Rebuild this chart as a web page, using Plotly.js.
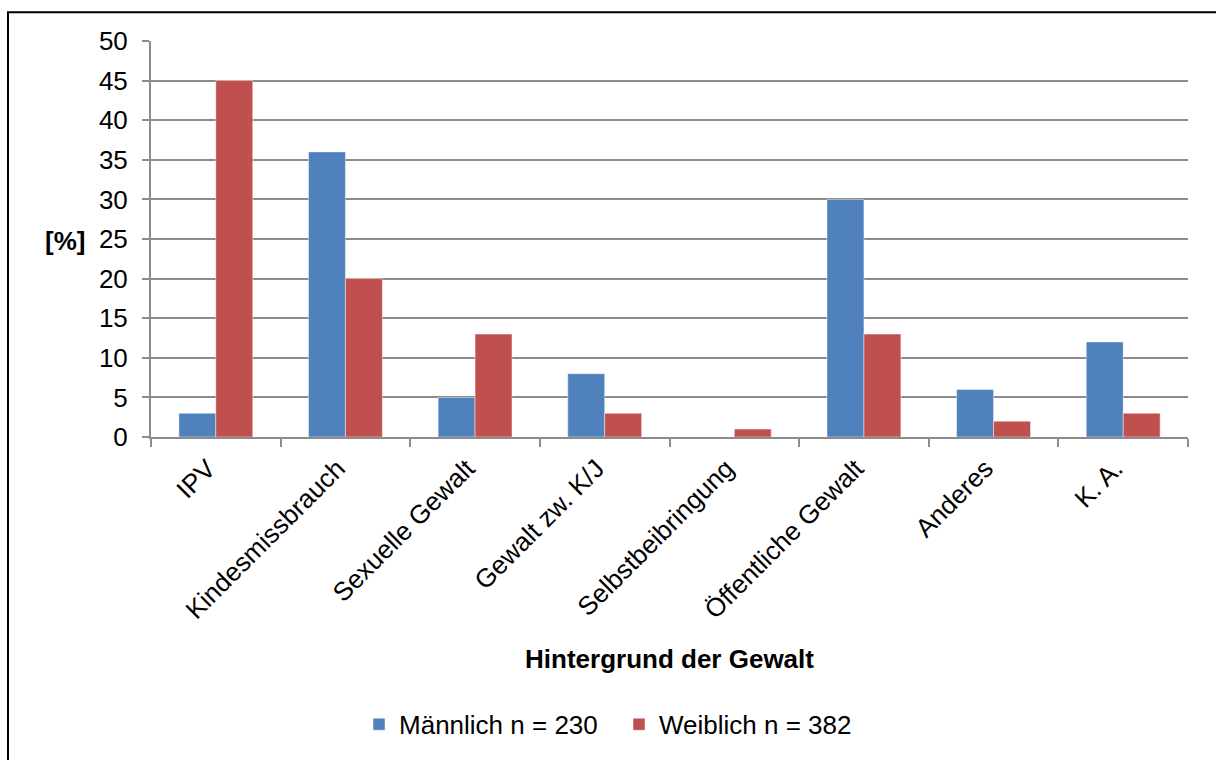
<!DOCTYPE html>
<html>
<head>
<meta charset="utf-8">
<script src="https://cdn.plot.ly/plotly-3.0.1.min.js"></script>
<style>
  html, body { margin: 0; padding: 0; background: #ffffff; }
  #chart { width: 1216px; height: 760px; }
</style>
</head>
<body>
<div id="chart"></div>
<script>
// Hintergrund der Gewalt nach Geschlecht (Anteile in %)
const categories = [
  "IPV",
  "Kindesmissbrauch",
  "Sexuelle Gewalt",
  "Gewalt zw. K/J",
  "Selbstbeibringung",
  "Öffentliche Gewalt",
  "Anderes",
  "K. A."
];
const maleValues = [3, 36, 5, 8, 0, 30, 6, 12];
const femaleValues = [45, 20, 13, 3, 1, 13, 2, 3];
const maleLabel = "Männlich n = 230";
const femaleLabel = "Weiblich n = 382";
const yTickValues = [0, 5, 10, 15, 20, 25, 30, 35, 40, 45, 50];

const FONT = "Liberation Sans, Arial, sans-serif";
const FS = 26;
const GRID = "#8c8c8c";

const traces = [
  {
    type: "bar",
    name: maleLabel,
    x: categories,
    y: maleValues,
    marker: { color: "#4f81bd", line: { color: "rgba(255,255,255,0.45)", width: 1 } },
    hoverinfo: "x+y"
  },
  {
    type: "bar",
    name: femaleLabel,
    x: categories,
    y: femaleValues,
    marker: { color: "#c0504d", line: { color: "rgba(255,255,255,0.45)", width: 1 } },
    hoverinfo: "x+y"
  }
];

const layout = {
  width: 1216,
  height: 760,
  margin: { l: 151, r: 28, t: 41, b: 318, pad: 0 },
  paper_bgcolor: "#ffffff",
  plot_bgcolor: "#ffffff",
  font: { family: FONT, size: FS, color: "#000000" },
  barmode: "group",
  bargap: 0.43,
  bargroupgap: 0,
  showlegend: true,
  legend: {
    orientation: "h",
    x: 0.2006,
    xanchor: "left",
    y: -0.7255,
    yanchor: "middle",
    font: { family: FONT, size: FS, color: "#000000" },
    entrywidth: 215,
    entrywidthmode: "pixels",
    traceorder: "normal"
  },
  xaxis: {
    type: "category",
    tickangle: -45,
    ticks: "outside",
    tickson: "boundaries",
    ticklen: 8,
    tickwidth: 2,
    tickcolor: GRID,
    ticklabelstandoff: 4,
    ticklabelshift: -8,
    showline: true,
    linecolor: GRID,
    linewidth: 2,
    showgrid: false,
    tickfont: { family: FONT, size: FS, color: "#000000" },
    automargin: false,
    title: {
      text: "<b>Hintergrund der Gewalt</b>",
      font: { family: FONT, size: FS, color: "#000000" },
      standoff: 26
    }
  },
  yaxis: {
    range: [0, 50],
    tickvals: yTickValues,
    ticks: "outside",
    ticklen: 7,
    tickwidth: 2,
    tickcolor: GRID,
    ticklabelstandoff: 9,
    showline: true,
    linecolor: GRID,
    linewidth: 2,
    showgrid: true,
    gridcolor: GRID,
    gridwidth: 2,
    zeroline: false,
    tickfont: { family: FONT, size: FS, color: "#000000" },
    automargin: false
  },
  annotations: [
    {
      text: "<b>[%]</b>",
      xref: "paper",
      yref: "paper",
      x: -0.083,
      y: 0.495,
      xanchor: "center",
      yanchor: "middle",
      showarrow: false,
      font: { family: FONT, size: FS, color: "#000000" }
    }
  ],
  shapes: [
    {
      // outer chart frame
      type: "rect",
      xref: "paper",
      yref: "paper",
      x0: -0.1379,
      x1: 1.2,
      y0: -1.0,
      y1: 1.0723,
      line: { color: "#000000", width: 2 },
      fillcolor: "rgba(0,0,0,0)",
      layer: "below"
    }
  ]
};

Plotly.newPlot("chart", traces, layout, { displayModeBar: false, staticPlot: true });
</script>
</body>
</html>
